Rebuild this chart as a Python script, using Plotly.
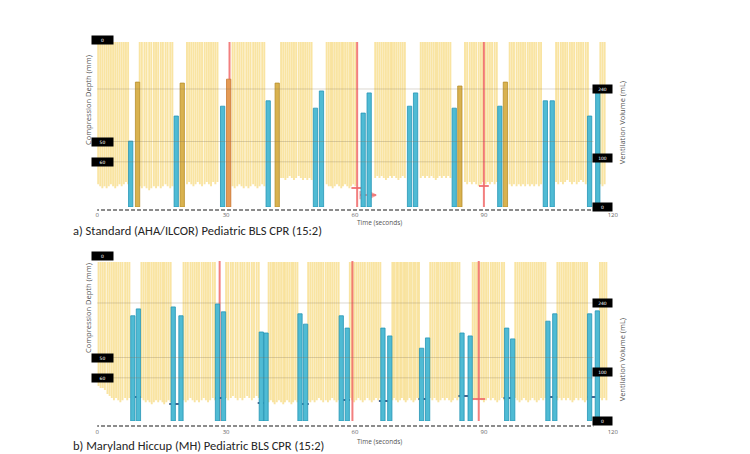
import plotly.graph_objects as go

W, H = 750, 454

# ---------------- data ----------------
tick_vals = [0, 30, 60, 90, 120]
tick_text = ["0", "30", "60", "90", "120"]
depth_tags = [0, 50, 60]          # mm
volume_tags = [240, 100, 0]       # mL

# Panel a: Standard (AHA/ILCOR) 15:2 -- compression times (s) and depths (mm)
a_comp_t = [
    0.2, 0.7, 1.2, 1.7, 2.2, 2.7, 3.2, 3.7, 4.2, 4.7, 5.2, 5.7, 6.2, 6.7, 7.2,
    9.9, 10.4, 11.0, 11.5, 12.1, 12.6, 13.2, 13.7, 14.2, 14.8, 15.3, 15.9, 16.4, 17.0, 17.5,
    20.9, 21.4, 21.9, 22.4, 22.9, 23.4, 23.9, 24.4, 25.0, 25.5, 26.0, 26.5, 27.0, 27.5, 28.0,
    31.5, 32.0, 32.6, 33.1, 33.6, 34.1, 34.7, 35.2, 35.7, 36.3, 36.8, 37.3, 37.8, 38.4, 38.9,
    42.8, 43.3, 43.8, 44.3, 44.8, 45.3, 45.8, 46.3, 46.9, 47.4, 47.9, 48.4, 48.9, 49.4, 49.9,
    53.4, 53.9, 54.4, 54.8, 55.3, 55.8, 56.3, 56.8, 57.2, 57.7, 58.2, 58.7, 59.1, 59.6, 60.1,
    64.7, 65.2, 65.7, 66.2, 66.7, 67.2, 67.7, 68.2, 68.6, 69.1, 69.6, 70.1, 70.6, 71.1, 71.6,
    75.3, 75.8, 76.3, 76.8, 77.3, 77.8, 78.3, 78.8, 79.2, 79.7, 80.2, 80.7, 81.2, 81.7, 82.2,
    85.6, 86.1, 86.7, 87.2, 87.7, 88.2, 88.8, 89.3, 89.8, 90.4, 90.9, 91.4, 91.9, 92.5, 93.0,
    96.0, 96.5, 97.0, 97.6, 98.1, 98.6, 99.1, 99.6, 100.2, 100.7, 101.2, 101.7, 102.2, 102.8, 103.3,
    106.8, 107.3, 107.9, 108.4, 108.9, 109.4, 110.0, 110.5, 111.0, 111.6, 112.1, 112.6, 113.1, 113.7, 114.2,
    117.1, 117.6, 118.1,
]
a_comp_d = [
    71, 72, 73, 72, 73, 72, 71, 72, 73, 72, 71, 72, 71, 70, 71,
    72, 73, 72, 73, 74, 73, 72, 73, 72, 73, 72, 71, 72, 73, 72,
    71, 70, 71, 72, 71, 70, 71, 72, 71, 70, 71, 72, 70, 71, 70,
    72, 73, 72, 71, 72, 73, 72, 73, 72, 71, 72, 73, 72, 71, 72,
    68, 68, 69, 68, 67, 68, 69, 68, 67, 68, 69, 68, 69, 68, 69,
    71, 72, 72, 73, 72, 71, 72, 73, 72, 71, 72, 73, 72, 71, 72,
    68, 67, 68, 67, 68, 69, 68, 67, 68, 67, 68, 69, 68, 67, 68,
    68, 67, 68, 67, 68, 67, 68, 69, 68, 67, 68, 67, 68, 67, 68,
    70, 71, 70, 71, 70, 71, 72, 71, 70, 71, 70, 71, 70, 71, 70,
    71, 72, 71, 72, 71, 72, 71, 72, 71, 72, 71, 72, 71, 72, 71,
    70, 71, 70, 71, 70, 69, 70, 71, 70, 71, 70, 69, 70, 71, 70,
    71, 72, 71,
]
a_comp_top = 1.0
a_vent_t = [7.8, 18.4, 29.2, 39.8, 50.8, 52.2, 61.9, 63.3, 72.7, 74.1, 83.1, 93.7, 104.3, 105.9, 114.6, 116.5]
a_vent_v = [134, 185, 205, 216, 201, 236, 191, 232, 205, 232, 201, 205, 216, 216, 185, 234]
a_gold_t = [9.4, 19.8, 41.9, 84.4, 95.0]
a_gold_v = [254, 252, 252, 246, 254]
a_orange_t = [30.6]
a_orange_v = [260]
a_red_t = [30.8, 60.5, 90.0]
a_pink_t = [60.3, 90.0]
a_pink_d = [72.9, 71.9]
a_arrow_t = [61.2, 64.9]
a_arrow_d = [76.4, 76.4]

# Panel b: Maryland Hiccup (MH) 15:2
b_comp_t = [
    0.3, 0.8, 1.3, 1.8, 2.4, 2.9, 3.4, 3.9, 4.4, 4.9, 5.4, 5.9, 6.5, 7.0, 7.5,
    10.3, 10.8, 11.3, 11.8, 12.2, 12.7, 13.2, 13.7, 14.2, 14.7, 15.2, 15.6, 16.1, 16.6, 17.1,
    20.1, 20.6, 21.1, 21.7, 22.2, 22.7, 23.2, 23.7, 24.3, 24.8, 25.3, 25.8, 26.3, 26.9, 27.4,
    30.0, 30.5, 31.1, 31.6, 32.2, 32.7, 33.3, 33.8, 34.3, 34.9, 35.4, 36.0, 36.5, 37.1, 37.6,
    39.9, 40.4, 40.9, 41.3, 41.8, 42.3, 42.8, 43.3, 43.7, 44.2, 44.7, 45.2, 45.6, 46.1, 46.6,
    49.1, 49.6, 50.1, 50.6, 51.1, 51.6, 52.1, 52.6, 53.2, 53.7, 54.2, 54.7, 55.2, 55.7, 56.2,
    58.8, 59.3, 59.8, 60.3, 60.8, 61.3, 61.8, 62.3, 62.9, 63.4, 63.9, 64.4, 64.9, 65.4, 65.9,
    68.7, 69.1, 69.6, 70.0, 70.5, 70.9, 71.4, 71.8, 72.2, 72.7, 73.1, 73.6, 74.0, 74.5, 74.9,
    77.5, 78.0, 78.5, 79.0, 79.4, 79.9, 80.4, 80.9, 81.4, 81.9, 82.4, 82.8, 83.3, 83.8, 84.3,
    87.4, 87.9, 88.4, 89.0, 89.5, 90.0, 90.5, 91.0, 91.6, 92.1, 92.6, 93.1, 93.6, 94.2, 94.7,
    97.3, 97.8, 98.3, 98.8, 99.3, 99.8, 100.3, 100.8, 101.3, 101.8, 102.3, 102.8, 103.3, 103.8, 104.3,
    107.1, 107.6, 108.1, 108.6, 109.1, 109.6, 110.1, 110.6, 111.0, 111.5, 112.0, 112.5, 113.0, 113.5, 114.0,
    117.0, 117.5, 118.0, 118.5,
]
b_comp_d = [
    64, 65, 65, 66, 68, 69, 70, 71, 70, 71, 72, 71, 70, 71, 70,
    70, 71, 72, 71, 72, 73, 72, 71, 72, 71, 72, 73, 72, 71, 72,
    71, 72, 71, 70, 71, 72, 71, 72, 71, 70, 71, 72, 71, 70, 71,
    70, 71, 70, 69, 70, 71, 70, 71, 70, 69, 70, 71, 70, 69, 70,
    72, 71, 72, 73, 72, 71, 72, 73, 72, 71, 72, 73, 72, 71, 72,
    71, 72, 71, 72, 71, 70, 71, 72, 71, 72, 71, 70, 71, 72, 71,
    70, 71, 72, 71, 70, 71, 72, 71, 70, 71, 72, 71, 70, 71, 70,
    71, 70, 71, 72, 71, 70, 71, 72, 71, 70, 71, 72, 71, 70, 71,
    70, 71, 70, 71, 72, 71, 70, 71, 70, 71, 72, 71, 70, 71, 70,
    71, 70, 71, 70, 71, 72, 71, 70, 71, 70, 71, 72, 71, 70, 71,
    70, 71, 72, 71, 70, 71, 72, 71, 70, 71, 72, 71, 70, 71, 70,
    71, 70, 71, 70, 71, 70, 71, 72, 71, 70, 71, 70, 71, 72, 71,
    70, 71, 70, 71,
]
b_comp_top = 3.0
b_vent_t = [8.3, 9.6, 17.7, 19.5, 28.0, 29.4, 38.2, 39.3, 47.2, 48.5, 56.8, 58.2,
            66.5, 68.1, 75.5, 76.9, 84.9, 86.8, 95.3, 96.7, 104.9, 106.5, 114.6, 116.4]
b_vent_v = [214, 228, 232, 214, 238, 222, 181, 179, 218, 197, 214, 189,
            189, 173, 148, 169, 179, 173, 189, 167, 203, 218, 218, 224]
b_red_t = [28.5, 59.4, 88.8]
b_mark_t = [9.0, 17.9, 28.7, 38.5, 48.1, 57.7, 66.7, 75.9, 85.2, 95.7, 105.9, 115.3]
b_mark_d = [69.5, 72.9, 70.0, 72.4, 72.9, 70.9, 71.4, 70.4, 69.0, 70.0, 69.5, 69.5]
b_redmark_t = [88.8]
b_redmark_d = [70.4]

# ---------------- layout geometry (pixels) ----------------
X0_PX, X120_PX = 96.2, 617.4
A_TOP, A_BOT = 40, 207
B_TOP, B_BOT = 256, 421
PX_PER_MM = 2.03
PX_PER_ML = 0.4917


def fy(px):
    return 1 - px / H


def fx(px):
    return px / W


a_depth_max = (A_BOT - A_TOP) / PX_PER_MM
b_depth_max = (B_BOT - B_TOP) / PX_PER_MM
a_vol_max = (A_BOT - A_TOP) / PX_PER_ML
b_vol_max = (B_BOT - B_TOP) / PX_PER_ML

YELLOW = "rgba(246,212,105,0.62)"
BLUE = "#4FBBD4"
BLUE_EDGE = "#2696B6"
RED = "rgba(240,105,105,0.85)"

fig = go.Figure()


def comp_trace(t, d, top, xa, ya):
    xs, ys = [], []
    for ti, di in zip(t, d):
        xs += [ti, ti, None]
        ys += [top, di, None]
    return go.Scatter(x=xs, y=ys, mode="lines", line=dict(color=YELLOW, width=1.9),
                      xaxis=xa, yaxis=ya, hoverinfo="skip", showlegend=False)


def red_trace(t, top, bottom, xa, ya):
    xs, ys = [], []
    for ti in t:
        xs += [ti, ti, None]
        ys += [top, bottom, None]
    return go.Scatter(x=xs, y=ys, mode="lines", line=dict(color=RED, width=2),
                      xaxis=xa, yaxis=ya, hoverinfo="skip", showlegend=False)


def bar_trace(t, v, color, edge, xa, ya):
    return go.Bar(x=t, y=v, width=1.0, marker=dict(color=color, line=dict(color=edge, width=0.8)),
                  xaxis=xa, yaxis=ya, hoverinfo="skip", showlegend=False)


# panel a
fig.add_trace(comp_trace(a_comp_t, a_comp_d, a_comp_top, "x", "y"))
fig.add_trace(red_trace(a_red_t, 1.0, a_depth_max, "x", "y"))
fig.add_trace(go.Scatter(x=a_pink_t, y=a_pink_d, mode="markers",
                         marker=dict(symbol="line-ew", size=7, line=dict(color=RED, width=2)),
                         xaxis="x", yaxis="y", hoverinfo="skip", showlegend=False))
fig.add_trace(go.Scatter(x=a_arrow_t, y=a_arrow_d, mode="lines+markers",
                         line=dict(color=RED, width=1.5),
                         marker=dict(symbol=["line-ns", "arrow-right"], size=[6, 6], color=RED,
                                     line=dict(color=RED, width=1.5)),
                         xaxis="x", yaxis="y", hoverinfo="skip", showlegend=False))
fig.add_trace(bar_trace(a_vent_t, a_vent_v, BLUE, BLUE_EDGE, "x", "y2"))
fig.add_trace(bar_trace(a_gold_t, a_gold_v, "#D9B24F", "#B88F2C", "x", "y2"))
fig.add_trace(bar_trace(a_orange_t, a_orange_v, "#E49A55", "#C97A35", "x", "y2"))

# panel b
fig.add_trace(comp_trace(b_comp_t, b_comp_d, b_comp_top, "x2", "y3"))
fig.add_trace(red_trace(b_red_t, 2.5, b_depth_max, "x2", "y3"))
fig.add_trace(go.Scatter(x=b_mark_t, y=b_mark_d, mode="markers",
                         marker=dict(symbol="line-ew", size=7, line=dict(color="rgba(40,70,120,0.85)", width=2)),
                         xaxis="x2", yaxis="y3", hoverinfo="skip", showlegend=False))
fig.add_trace(go.Scatter(x=b_redmark_t, y=b_redmark_d, mode="markers",
                         marker=dict(symbol="line-ew", size=9, line=dict(color=RED, width=2)),
                         xaxis="x2", yaxis="y3", hoverinfo="skip", showlegend=False))
fig.add_trace(bar_trace(b_vent_t, b_vent_v, BLUE, BLUE_EDGE, "x2", "y4"))

xdom = [fx(X0_PX), fx(X120_PX)]
tickfont = dict(family="Open Sans, sans-serif", size=6, color="#666")
xcommon = dict(domain=xdom, range=[0, 120], tickvals=tick_vals, ticktext=tick_text, ticks="",
               showgrid=False, zeroline=False, showline=False, tickfont=tickfont)

fig.update_layout(
    width=W, height=H, margin=dict(l=0, r=0, t=0, b=0),
    paper_bgcolor="white", plot_bgcolor="white", showlegend=False, barmode="overlay",
    xaxis=dict(anchor="y", ticklabelstandoff=3, **xcommon),
    xaxis2=dict(anchor="y3", ticklabelstandoff=6, **xcommon),
    yaxis=dict(domain=[fy(A_BOT), fy(A_TOP)], range=[a_depth_max, 0], anchor="x", visible=False),
    yaxis2=dict(overlaying="y", side="right", range=[0, a_vol_max], anchor="x", visible=False),
    yaxis3=dict(domain=[fy(B_BOT), fy(B_TOP)], range=[b_depth_max, 0], anchor="x2", visible=False),
    yaxis4=dict(overlaying="y3", side="right", range=[0, b_vol_max], anchor="x2", visible=False),
)

shapes = []
GRID = "rgba(130,115,90,0.28)"
for xr, ydep, yvol, gap in (("x", "y", "y2", -0.018), ("x2", "y3", "y4", -0.03)):
    for d in depth_tags[1:]:
        shapes.append(dict(type="line", xref=xr, yref=ydep, x0=-0.5, x1=115.5, y0=d, y1=d,
                           line=dict(color=GRID, width=1), layer="above"))
    shapes.append(dict(type="line", xref=xr, yref=yvol, x0=-0.5, x1=115.5, y0=240, y1=240,
                       line=dict(color=GRID, width=1), layer="above"))
    shapes.append(dict(type="line", xref=xr, yref=ydep + " domain", x0=-0.5, x1=115.5, y0=gap, y1=gap,
                       line=dict(color="#666", width=1.5, dash="4px,2px")))
fig.update_layout(shapes=shapes)

ann = []
TAG_FONT = dict(family="DejaVu Sans", size=4.5, color="white")
C = dict(xanchor="center", yanchor="middle", showarrow=False)
for ydep, yvol in (("y", "y2"), ("y3", "y4")):
    for d in depth_tags:
        ann.append(dict(xref="paper", yref=ydep, x=fx(101.5), y=d, text=str(d),
                        bgcolor="black", width=21, height=8, borderpad=0, font=TAG_FONT, **C))
    for v in volume_tags:
        ann.append(dict(xref="paper", yref=yvol, x=fx(607), y=v, text=str(v),
                        bgcolor="black", width=19, height=8, borderpad=0, font=TAG_FONT, **C))

TITLE_FONT = dict(family="Open Sans, sans-serif", size=7.5, color="#555")
for (lx, ly, rx, ry, tx, ty, cy, cap) in (
    (87, 100, 627, 123, 357, 223, 231, "a) Standard (AHA/ILCOR) Pediatric BLS CPR (15:2)"),
    (87, 308, 627, 360, 357, 441, 445.5, "b) Maryland Hiccup (MH) Pediatric BLS CPR (15:2)"),
):
    ann.append(dict(xref="paper", yref="paper", x=fx(lx), y=fy(ly), text="Compression Depth (mm)",
                    textangle=-90, font=TITLE_FONT, **C))
    ann.append(dict(xref="paper", yref="paper", x=fx(rx), y=fy(ry), text="Ventilation Volume (mL)",
                    textangle=-90, font=TITLE_FONT, **C))
    ann.append(dict(xref="paper", yref="paper", x=fx(tx), y=fy(ty), text="Time (seconds)",
                    xanchor="left", yanchor="middle", showarrow=False,
                    font=dict(family="Open Sans, sans-serif", size=6.5, color="#555")))
    ann.append(dict(xref="paper", yref="paper", x=fx(70), y=fy(cy), text=cap, xanchor="left",
                    yanchor="middle", showarrow=False,
                    font=dict(family="Carlito, Lato, sans-serif", size=12.5, color="#262626")))
fig.update_layout(annotations=ann)

fig.write_html("out.html")
